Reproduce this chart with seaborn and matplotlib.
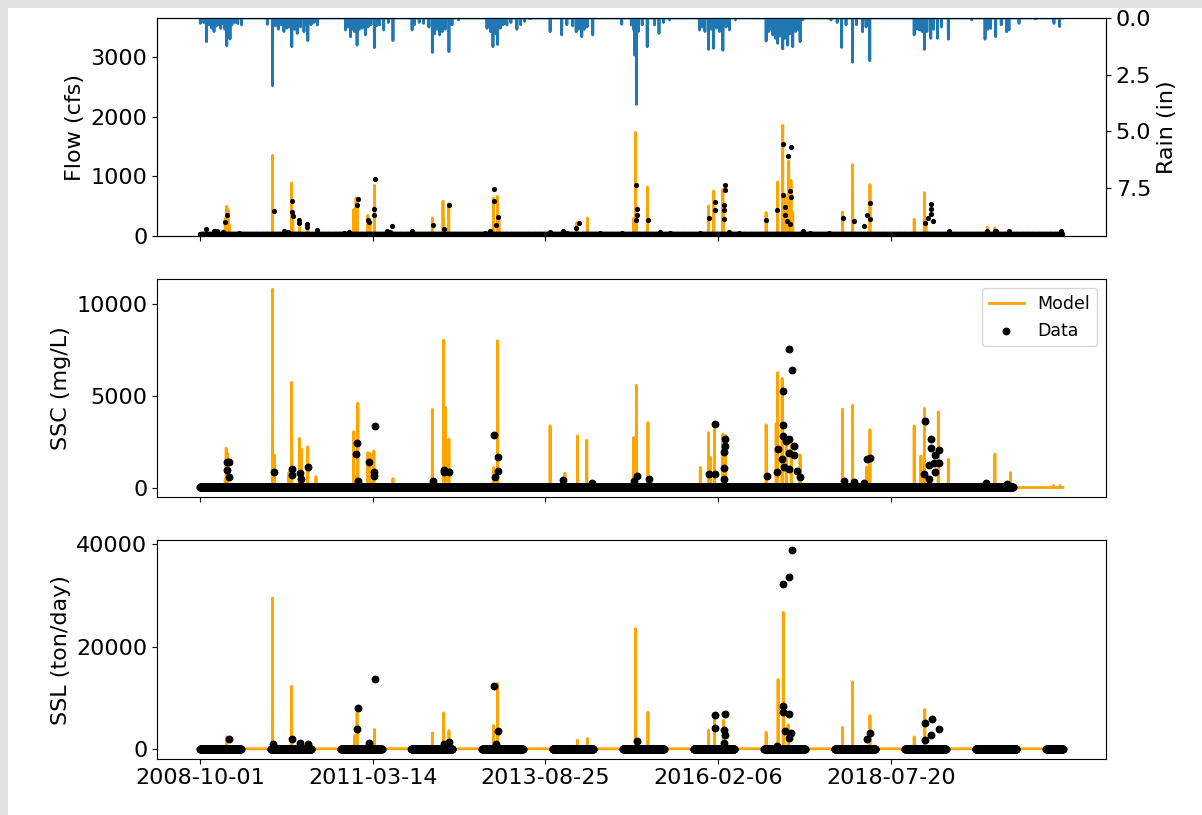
import numpy as np
import pandas as pd
import seaborn as sns
import matplotlib.pyplot as plt
from matplotlib.patches import Rectangle

# time axis (daily model output)
start_date = '2008-10-01'
n_days = 4470
tick_labels = ['2008-10-01', '2011-03-14', '2013-08-25', '2016-02-06', '2018-07-20']

# rain events: day offset from start, inches
rain_days = [1, 8, 20, 33, 45, 60, 72, 85, 95, 107, 118, 128, 138, 145, 155, 165, 180, 195, 215,
             348, 375, 390, 405, 420, 434, 450, 462, 475, 490, 503, 520, 538, 550, 558, 575, 590, 607,
             753, 765, 779, 790, 800, 813, 825, 840, 856, 870, 885, 903, 915, 930, 951, 975, 999,
             1098, 1110, 1135, 1158, 1185, 1203, 1215, 1228, 1241, 1255, 1270, 1289, 1305, 1339,
             1486, 1495, 1505, 1517, 1530, 1541, 1555, 1570, 1589, 1610, 1641, 1660, 1680, 1710,
             1813, 1873, 1900, 1930, 1948, 1960, 1977, 1990, 2005, 2034,
             2184, 2234, 2245, 2251, 2260, 2270, 2290, 2316, 2354, 2377, 2400, 2432,
             2587, 2600, 2615, 2634, 2645, 2659, 2675, 2690, 2708, 2725, 2742, 2773,
             2932, 2945, 2955, 2966, 2980, 2992, 3005, 3018, 3030, 3044, 3055, 3070, 3085, 3095, 3108, 3122,
             3268, 3300, 3323, 3346, 3380, 3400, 3432, 3450, 3469,
             3699, 3710, 3725, 3740, 3752, 3765, 3785, 3800, 3820, 3840, 3876,
             3997, 4066, 4080, 4095, 4121, 4150, 4178, 4190, 4242,
             4328, 4423, 4452]
rain_in = [0.24, 0.15, 0.2, 1.05, 0.3, 0.45, 0.6, 0.35, 0.3, 0.46, 0.25, 0.5, 1.23, 0.7, 0.93, 0.3, 0.2, 0.25, 0.31,
           0.28, 3.0, 0.35, 0.5, 0.3, 0.6, 0.45, 0.4, 1.27, 0.5, 0.68, 0.4, 0.61, 0.3, 1.0, 0.3, 0.2, 0.31,
           0.53, 0.4, 0.83, 0.5, 0.6, 1.2, 0.5, 0.45, 0.75, 0.4, 0.3, 1.31, 0.35, 0.3, 0.53, 0.2, 1.0,
           0.53, 0.3, 0.2, 0.24, 0.4, 1.52, 0.7, 0.5, 0.75, 0.6, 0.5, 1.49, 0.3, 0.09,
           0.46, 0.35, 0.6, 1.27, 0.7, 1.17, 0.45, 0.3, 0.31, 0.2, 0.5, 0.3, 0.15, 0.04,
           0.61, 0.75, 0.3, 0.35, 0.61, 0.5, 0.83, 0.5, 0.4, 0.75,
           0.28, 0.31, 0.5, 1.64, 3.82, 0.6, 0.3, 1.27, 0.31, 0.68, 0.2, 0.09,
           0.53, 0.4, 0.6, 1.39, 0.5, 1.34, 0.45, 0.6, 1.43, 0.4, 0.53, 0.09,
           1.02, 0.6, 0.5, 0.75, 0.9, 1.12, 0.8, 1.37, 0.9, 1.2, 0.7, 1.27, 0.6, 0.5, 1.05, 0.09,
           0.09, 0.2, 1.3, 0.31, 1.96, 0.3, 0.61, 0.4, 1.89,
           0.75, 0.5, 0.53, 0.6, 1.39, 0.6, 0.9, 0.5, 0.9, 0.4, 0.94,
           0.09, 0.94, 0.5, 0.46, 0.83, 0.3, 0.61, 0.53, 0.24,
           0.04, 0.24, 0.38]

# flow (cfs)
flow_base = 20
flow_obs_base = 30
flow_obs_last_day = 4465
flow_peak_days = [33, 130, 138, 145, 150, 375, 474, 480, 514, 558, 796, 808, 813, 869, 880, 903,
                  1203, 1258, 1262, 1288, 1520, 1541, 1548, 1951, 2006, 2246, 2256, 2260, 2317,
                  2634, 2661, 2708, 2712, 2932, 2992, 3018, 3030, 3049, 3061, 3070, 3328, 3380,
                  3470, 3699, 3752, 3760, 4078, 4117]
flow_peak_cfs = [60, 300, 502, 440, 200, 1355, 892, 300, 150, 120, 450, 641, 600, 351, 250, 853,
                 306, 585, 300, 547, 641, 669, 300, 229, 306, 300, 1735, 500, 825,
                 507, 758, 786, 500, 396, 909, 1857, 700, 1260, 937, 400, 407, 1199,
                 865, 284, 731, 300, 151, 140]
flow_obs_days = [33, 130, 138, 381, 474, 476, 480, 514, 512, 552, 556, 604, 813, 819, 868, 875, 905,
                 903, 900, 995, 1205, 1262, 1288, 1521, 1521, 1541, 1535, 1962, 1945,
                 2256, 2262, 2262, 2258, 2320, 2634, 2665, 2665, 2720, 2717, 2713, 2713, 2713,
                 2932, 2989, 3020, 3061, 3046, 3021, 3056, 3032, 3061, 3030, 3040, 3055,
                 3328, 3385, 3469, 3469, 3453, 3440, 3785, 3785, 3785, 3755, 3770, 3795, 4117,
                 74, 88, 117, 203, 434, 455, 745, 770, 968, 985, 1098, 1477, 1503, 1813, 1878,
                 1899, 2071, 2184, 2380, 2432, 2587, 2742, 2794, 3122, 3157, 3260, 3880, 4078,
                 4121, 4190, 4457]
flow_obs_cfs = [128, 230, 351, 430, 597, 407, 335, 279, 213, 212, 157, 112, 530, 619, 273, 230, 965,
                452, 351, 167, 184, 120, 530, 798, 591, 329, 195, 229, 140,
                865, 452, 351, 273, 268, 306, 574, 435, 865, 781, 530, 435, 290,
                268, 435, 1539, 1500, 1338, 686, 758, 496, 658, 350, 250, 200,
                313, 250, 557, 296, 351, 167, 547, 463, 380, 229, 300, 250, 80,
                84, 80, 70, 60, 90, 70, 60, 70, 80, 70, 80, 60, 80, 70, 90,
                60, 60, 60, 70, 50, 60, 70, 50, 80, 60, 60, 90, 90,
                80, 90, 80]

# suspended sediment concentration (mg/L)
ssc_base = 50
ssc_obs_base = 60
ssc_obs_last_day = 4210
ssc_peak_days = [130, 135, 140, 375, 386, 460, 474, 514, 525, 558, 600, 796, 810, 817, 869, 880, 900,
                 999, 1203, 1262, 1270, 1289, 1520, 1541, 1813, 1890, 1955, 2003, 2246, 2260, 2320,
                 2591, 2634, 2645, 2665, 2708, 2722, 2932, 2984, 2992, 3015, 3036, 3062, 3108,
                 3328, 3380, 3453, 3470, 3699, 3734, 3752, 3824, 3876, 4117, 4198, 4420, 4455]
ssc_peak_mgl = [500, 2190, 1920, 10832, 1810, 870, 5760, 2717, 2140, 2263, 650, 3090, 700, 4636, 1950, 1900, 2040,
                540, 4310, 8060, 4400, 2680, 1140, 8025, 3400, 830, 2860, 2620, 2770, 5614, 3587,
                1140, 3045, 1690, 3230, 2960, 2870, 3460, 3530, 6305, 5980, 2680, 2680, 1830,
                4310, 4527, 1170, 3190, 3400, 1770, 4364, 4165, 1590, 1870, 870, 150, 150]
ssc_obs_days = [140, 152, 140, 148, 381, 477, 474, 520, 560, 524, 813, 810, 819, 876, 908, 903, 900,
                1206, 1262, 1265, 1289, 1524, 1541, 1541, 1530, 1880, 2029,
                2263, 2246, 2323, 2634, 2665, 2665, 2721, 2721, 2713, 2716, 2716, 2937, 2996, 2989,
                3052, 3064, 3021, 3021, 3021, 3035, 3052, 3075, 3052, 3075, 3014, 3023, 3049, 3092, 3109,
                3334, 3388, 3454, 3469, 3440, 3754, 3785, 3785, 3808, 3825, 3802, 3825, 3776, 3808,
                3751, 3776, 4069, 4181]
ssc_obs_mgl = [1447, 1450, 995, 630, 920, 1050, 720, 830, 1170, 500, 2445, 1870, 420, 1450, 3400, 900, 690,
               380, 995, 900, 870, 2913, 1720, 960, 630, 450, 290,
               690, 420, 500, 780, 780, 3478, 2680, 2285, 1995, 1110, 500, 690, 2140, 870,
               7571, 6446, 5305, 3440, 2860, 2590, 2680, 2285, 1920, 1810, 1590, 1190, 1050, 960, 600,
               420, 330, 1590, 1640, 290, 3675, 2680, 2190, 1810, 2100, 1375, 1375, 1280, 870,
               780, 500, 290, 235]

# suspended sediment load (ton/day)
ssl_base = 0
ssl_seasons = [('2008-10-01', '2009-04-30'), ('2009-10-01', '2010-04-30'), ('2010-10-01', '2011-04-30'),
               ('2011-10-01', '2012-04-30'), ('2012-10-01', '2013-04-30'), ('2013-10-01', '2014-04-30'),
               ('2014-10-01', '2015-04-30'), ('2015-10-01', '2016-04-30'), ('2016-10-01', '2017-04-30'),
               ('2017-10-01', '2018-04-30'), ('2018-10-01', '2019-04-30'), ('2019-10-01', '2020-04-30'),
               ('2020-10-01', '2020-12-26')]
ssl_peak_days = [138, 375, 474, 800, 813, 903, 1203, 1262, 1289, 1520, 1541, 1955, 2006, 2256, 2320,
                 2634, 2665, 2711, 2932, 2994, 3021, 3046, 3328, 3380, 3470, 3699, 3754]
ssl_peak_tpd = [2345, 29505, 12250, 2540, 7034, 3770, 3120, 7034, 3550, 4560, 12760, 1700, 2020, 23510, 7170,
                3650, 6250, 5600, 3260, 13540, 26710, 4690, 4170, 13090, 6510, 2345, 7690]
ssl_obs_days = [152, 378, 477, 520, 560, 819, 813, 877, 908, 1265, 1289, 1524, 1541, 1535,
                2263, 2665, 2665, 2720, 2713, 2719, 2716, 3020, 3052, 3064, 3021, 3021, 3052, 3032,
                3061, 3049, 2987, 3454, 3469, 3754, 3789, 3785, 3825, 3754]
ssl_obs_tpd = [1930, 1020, 1930, 1150, 1020, 7950, 3840, 1215, 13680, 900, 1280, 12250, 3440, 900,
               1540, 6510, 4105, 6840, 3580, 2600, 1150, 32300, 33550, 38820, 8460, 7230, 6840, 3380,
               3120, 2080, 600, 1930, 3120, 5080, 5860, 2730, 3900, 1800]


dates = pd.date_range(start_date, periods=n_days)


def model_series(base, days, vals):
    s = np.full(n_days, float(base))
    s[days] = vals
    return s


def obs_frame(base, obs_days, obs_vals, last_day=None, seasons=None):
    if seasons is None:
        d = dates[:last_day + 1]
    else:
        d = dates[np.any([(dates >= a) & (dates <= b) for a, b in seasons], axis=0)]
    base_df = pd.DataFrame({'date': d, 'value': float(base)})
    peak_df = pd.DataFrame({'date': dates[obs_days], 'value': obs_vals})
    return pd.concat([base_df, peak_df], ignore_index=True)


rain = model_series(0, rain_days, rain_in)
flow = model_series(flow_base, flow_peak_days, flow_peak_cfs)
ssc = model_series(ssc_base, ssc_peak_days, ssc_peak_mgl)
ssl = model_series(ssl_base, ssl_peak_days, ssl_peak_tpd)

flow_obs = obs_frame(flow_obs_base, flow_obs_days, flow_obs_cfs, last_day=flow_obs_last_day)
ssc_obs = obs_frame(ssc_obs_base, ssc_obs_days, ssc_obs_mgl, last_day=ssc_obs_last_day)
ssl_obs = obs_frame(ssl_base, ssl_obs_days, ssl_obs_tpd, seasons=ssl_seasons)

plt.rcParams['font.size'] = 16
plt.rcParams['legend.fontsize'] = 12.5

fig, axes = plt.subplots(3, 1, sharex=True, figsize=(12.02, 8.15), dpi=100)
fig.subplots_adjust(left=0.1306, right=0.9201, top=1 - 18 / 815, bottom=0.0691, hspace=0.197)
fig.patch.set_facecolor('#e2e2e2')
fig.patches.append(Rectangle((8 / 1202, 0), 1, 1 - 8 / 815, transform=fig.transFigure,
                             facecolor='white', edgecolor='none', zorder=-10))

panels = [(axes[0], flow, flow_obs, 'Flow (cfs)', 14),
          (axes[1], ssc, ssc_obs, 'SSC (mg/L)', 32),
          (axes[2], ssl, ssl_obs, 'SSL (ton/day)', 32)]

for ax, model, obs, ylab, msize in panels:
    sns.lineplot(x=dates, y=model, ax=ax, color='orange', lw=2, estimator=None,
                 label='Model' if ax is axes[1] else None)
    sns.scatterplot(data=obs, x='date', y='value', ax=ax, color='k', s=msize, linewidth=0,
                    zorder=3, label='Data' if ax is axes[1] else None)
    ax.set_ylabel(ylab)
    ax.set_xlabel('')

axes[0].set_ylim(0, 3650)
axes[0].set_yticks([0, 1000, 2000, 3000])

ax2 = axes[0].twinx()
sns.lineplot(x=dates, y=rain, ax=ax2, color='tab:blue', lw=2, estimator=None)
ax2.set_ylim(9.65, 0)
ax2.set_yticks([0, 2.5, 5, 7.5])
ax2.set_ylabel('Rain (in)')

axes[1].set_yticks([0, 5000, 10000])
axes[1].legend(loc='upper right')
axes[2].set_yticks([0, 20000, 40000])

tick_pos = pd.to_datetime(tick_labels)
axes[2].set_xticks(tick_pos)
axes[2].set_xticklabels(tick_labels)

fig.savefig('out.png', dpi=100, facecolor=fig.get_facecolor())
